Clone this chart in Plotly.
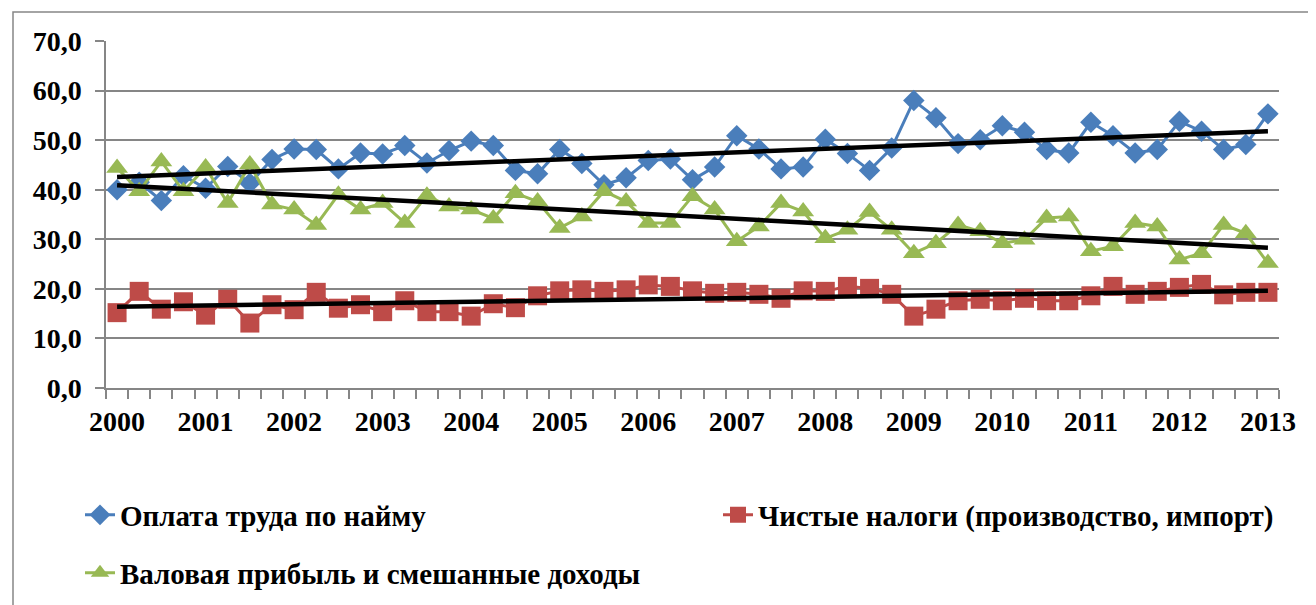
import numpy as np
import plotly.graph_objects as go

years = [str(y) for y in range(2000, 2014)]
quarters = list(range(53))

wages = [40.0, 41.5, 37.8, 42.8, 40.3, 44.7, 41.3, 46.1, 48.2, 48.1, 44.2, 47.4, 47.2, 48.9,
         45.4, 47.9, 49.8, 48.9, 43.9, 43.2, 48.1, 45.3, 41.0, 42.4, 45.9, 46.2, 42.0, 44.6,
         50.9, 48.2, 44.2, 44.6, 50.2, 47.3, 43.9, 48.4, 58.0, 54.5, 49.3, 50.1, 52.9, 51.6,
         48.1, 47.4, 53.6, 50.9, 47.4, 48.1, 53.8, 51.8, 48.1, 49.1, 55.3]
taxes = [15.2, 19.5, 15.9, 17.4, 14.7, 17.9, 13.1, 16.8, 15.8, 19.3, 16.1, 16.8, 15.4, 17.6,
         15.4, 15.4, 14.5, 17.0, 16.2, 18.6, 19.6, 19.8, 19.5, 19.8, 20.8, 20.5, 19.6, 19.1,
         19.3, 18.9, 18.1, 19.6, 19.5, 20.5, 20.1, 18.9, 14.5, 15.9, 17.6, 17.9, 17.6, 18.1,
         17.6, 17.6, 18.6, 20.5, 18.9, 19.5, 20.3, 20.9, 18.8, 19.3, 19.3]
profit = [44.4, 39.7, 45.7, 39.7, 44.5, 37.3, 45.1, 37.0, 36.0, 32.9, 39.0, 36.0, 37.3, 33.3,
          38.8, 36.6, 36.0, 34.2, 39.3, 37.6, 32.3, 34.6, 39.7, 37.6, 33.3, 33.3, 38.7, 36.0,
          29.6, 32.6, 37.3, 35.6, 30.2, 31.9, 35.5, 31.9, 27.2, 29.2, 32.9, 31.6, 29.2, 29.9,
          34.3, 34.6, 27.6, 28.6, 33.3, 32.6, 25.9, 27.2, 32.9, 31.2, 25.2]

names = ["Оплата труда по найму",
         "Чистые налоги (производство, импорт)",
         "Валовая прибыль и смешанные доходы"]
colors = ["#4A7EBB", "#BE4B48", "#98B954"]
symbols = ["diamond", "square", "triangle-up"]
sizes = [16.5, 19, 19]
legends = ["legend", "legend2", "legend3"]
series = [wages, taxes, profit]

FONT = "Times New Roman, Liberation Serif, DejaVu Serif, serif"
fig = go.Figure()
x = np.array(quarters)
for vals, name, col, sym, sz, lg in zip(series, names, colors, symbols, sizes, legends):
    fig.add_trace(go.Scatter(
        x=quarters, y=vals, name=name, mode="lines+markers",
        line=dict(color=col, width=3),
        marker=dict(symbol=sym, size=sz, color=col),
        legend=lg,
    ))
for vals in series:
    k, b = np.polyfit(x, np.array(vals), 1)
    fig.add_trace(go.Scatter(
        x=[x[0], x[-1]], y=[b + k * x[0], b + k * x[-1]], mode="lines",
        line=dict(color="black", width=4.5), showlegend=False, hoverinfo="skip",
    ))

OFF = 8  # page offset of the figure
W, H = 1308, 597
L, R, T, B = 98, 37, 33, 217
pw, ph = W - L - R, H - T - B

def px(xp):
    return (xp - OFF - L) / pw

def py(yp):
    return (OFF + H - B - yp) / ph

legend_font = dict(family=FONT, size=29, color="black", weight="bold")
common = dict(font=legend_font, bgcolor="rgba(0,0,0,0)", borderwidth=0,
              orientation="h", xanchor="left", yanchor="middle")
tick_font = dict(family=FONT, size=28, color="black", weight="bold")

fig.update_layout(
    width=W, height=H,
    margin=dict(l=L, r=R, t=T, b=B, autoexpand=False),
    paper_bgcolor="white", plot_bgcolor="white",
    separators=", ",
    font=dict(family=FONT, size=27, color="black"),
    legend=dict(x=px(80), y=py(515), **common),
    legend2=dict(x=px(718), y=py(515), **common),
    legend3=dict(x=px(80), y=py(573), **common),
    xaxis=dict(
        range=[-0.5, 52.5], tickmode="array",
        tickvals=[4 * i for i in range(len(years))], ticktext=years,
        ticks="", showgrid=False, zeroline=False,
        showline=True, linecolor="#868686", linewidth=1.5,
        tickfont=tick_font,
        ticklabelstandoff=8,
        minor=dict(tick0=-0.5, dtick=1, ticks="outside", ticklen=9,
                   tickcolor="#868686", tickwidth=1.5, showgrid=False),
    ),
    yaxis=dict(
        range=[0, 70], tickmode="linear", tick0=0, dtick=10, tickformat=".1f",
        ticks="outside", ticklen=9, tickcolor="#868686", tickwidth=1.5,
        showgrid=True, gridcolor="#868686", gridwidth=1.5, zeroline=False,
        showline=True, linecolor="#868686", linewidth=1.5,
        tickfont=tick_font,
        ticklabelstandoff=8,
    ),
    shapes=[dict(type="rect", xref="paper", yref="paper",
                 x0=px(13), x1=px(1340), y0=py(640), y1=py(12),
                 line=dict(color="#868686", width=1.5), fillcolor="rgba(0,0,0,0)",
                 layer="below")],
    showlegend=True,
)

fig.write_html("out.html")
